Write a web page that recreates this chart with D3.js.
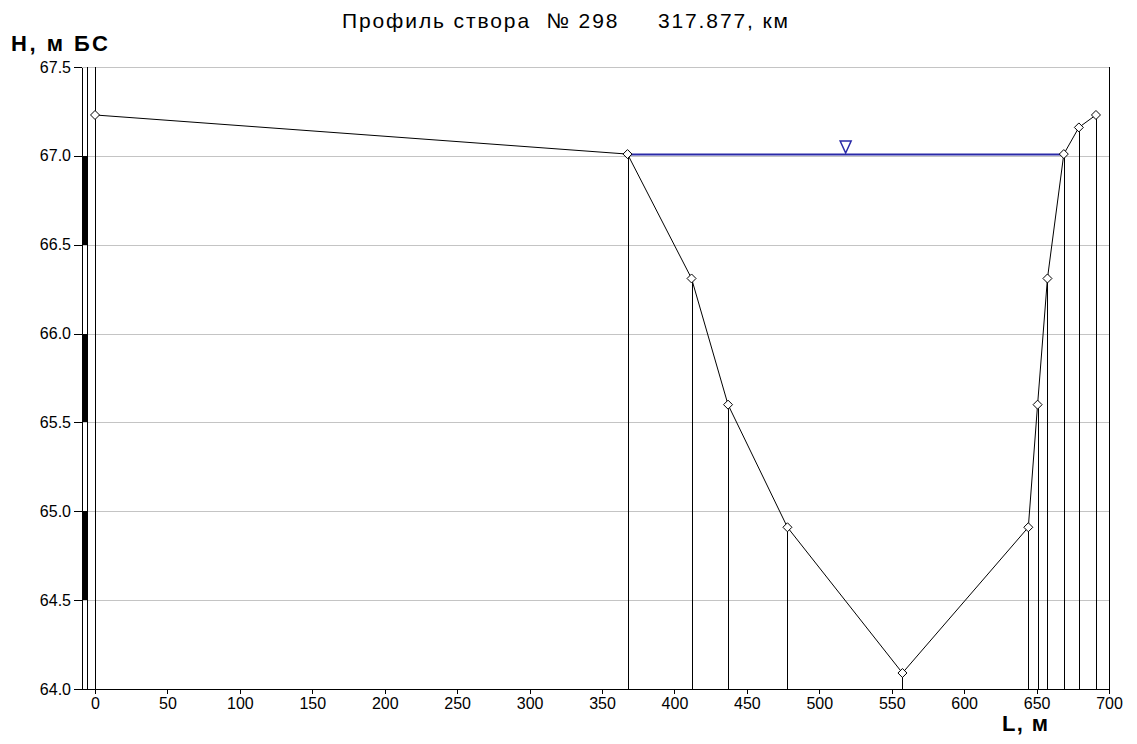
<!DOCTYPE html>
<html>
<head>
<meta charset="utf-8">
<script src="https://cdn.jsdelivr.net/npm/d3@7"></script>
<style>
  body { margin: 0; background: #fff; }
  svg text { font-family: "Liberation Sans", Arial, sans-serif; fill: #000; white-space: pre; }
</style>
</head>
<body>
<svg id="chart"></svg>
<script>
// Profile data: distance along section (m) and bed elevation (m BS)
const stations = [0, 367.6, 411.8, 437, 478, 557.4, 644.3, 650.7, 657.5, 668.8, 679.2, 691];
const heights = [67.23, 67.01, 66.31, 65.60, 64.91, 64.09, 64.91, 65.60, 66.31, 67.01, 67.16, 67.23];

// Water level and its extent
const waterLevel = 67.01;
const waterFrom = 367.6;
const waterTo = 668.8;

// Alternating gauge bands on the left
const gaugeBands = [[66.5, 67.0], [65.5, 66.0], [64.5, 65.0]];

const xTicks = [0, 50, 100, 150, 200, 250, 300, 350, 400, 450, 500, 550, 600, 650, 700];
const yTicks = [64.0, 64.5, 65.0, 65.5, 66.0, 66.5, 67.0, 67.5];

const titleText = "Профиль створа  № 298     317.877, км";
const yLabel = "Н, м БС";
const xLabel = "L, м";

const width = 1137;
const height = 744;

const x = d3.scaleLinear().domain([-9, 700]).range([82, 1109]);
const y = d3.scaleLinear().domain([64, 67.5]).range([689, 67]);

const svg = d3.select("#chart")
    .attr("width", width)
    .attr("height", height);

// grid lines
svg.append("g")
    .selectAll("line")
    .data(yTicks)
    .join("line")
    .attr("x1", x(-9))
    .attr("x2", x(700))
    .attr("y1", d => Math.round(y(d)) + 0.5)
    .attr("y2", d => Math.round(y(d)) + 0.5)
    .attr("stroke", "#c4c4c4")
    .attr("shape-rendering", "crispEdges");

// gauge column
const gx0 = Math.round(x(-9)) + 0.5;
const gx1 = Math.round(x(-5.8)) + 0.5;
svg.append("g")
    .selectAll("rect")
    .data(gaugeBands)
    .join("rect")
    .attr("x", gx0)
    .attr("width", gx1 - gx0)
    .attr("y", d => y(d[1]))
    .attr("height", d => y(d[0]) - y(d[1]))
    .attr("fill", "#000")
    .attr("shape-rendering", "crispEdges");

const frame = svg.append("g")
    .attr("stroke", "#000")
    .attr("shape-rendering", "crispEdges");

// full-height verticals: gauge edge, zero station, right border
[gx1, Math.round(x(0)) + 0.5, Math.round(x(700)) + 0.5].forEach(px => {
  frame.append("line")
    .attr("x1", px).attr("x2", px)
    .attr("y1", y(67.5)).attr("y2", y(64));
});

// verticals from each profile point down to the axis
svg.append("g")
    .selectAll("line")
    .data(stations.slice(1))
    .join("line")
    .attr("x1", d => Math.round(x(d)) + 0.5)
    .attr("x2", d => Math.round(x(d)) + 0.5)
    .attr("y1", (d, i) => y(heights[i + 1]))
    .attr("y2", y(64))
    .attr("stroke", "#000")
    .attr("shape-rendering", "crispEdges");

// axes
const yAxis = svg.append("g")
    .attr("transform", `translate(${gx0 - 0.5},0)`)
    .call(d3.axisLeft(y).tickValues(yTicks).tickFormat(d3.format(".1f")).tickSize(8).tickSizeOuter(0).tickPadding(3));

const xAxis = svg.append("g")
    .attr("transform", `translate(0,${Math.round(y(64))})`)
    .call(d3.axisBottom(x).tickValues(xTicks).tickSize(5).tickSizeOuter(0).tickPadding(4));

[yAxis, xAxis].forEach(g => {
  g.attr("shape-rendering", "crispEdges");
  g.selectAll("path, line").attr("stroke", "#000");
  g.selectAll("text")
    .attr("font-size", 16)
    .attr("font-family", "\"Liberation Sans\", Arial, sans-serif");
});

// water surface
svg.append("line")
    .attr("x1", x(waterFrom))
    .attr("x2", x(waterTo))
    .attr("y1", Math.round(y(waterLevel)) + 0.5)
    .attr("y2", Math.round(y(waterLevel)) + 0.5)
    .attr("stroke", "#2a2aa8")
    .attr("stroke-width", 2);

const tx = x((waterFrom + waterTo) / 2);
const ty = Math.round(y(waterLevel)) - 1;
svg.append("path")
    .attr("d", `M${tx - 5.5},${ty - 12}L${tx + 5.5},${ty - 12}L${tx},${ty}Z`)
    .attr("fill", "#fff")
    .attr("stroke", "#2a2aa8")
    .attr("stroke-width", 1.5);

// profile line
const points = stations.map((s, i) => [s, heights[i]]);
const line = d3.line()
    .x(d => x(d[0]))
    .y(d => y(d[1]));

svg.append("path")
    .datum(points)
    .attr("d", line)
    .attr("fill", "none")
    .attr("stroke", "#000")
    .attr("stroke-width", 1);

// point markers
svg.append("g")
    .selectAll("path")
    .data(points)
    .join("path")
    .attr("transform", d => `translate(${x(d[0])},${y(d[1])})`)
    .attr("d", "M0,-4.5L4.5,0L0,4.5L-4.5,0Z")
    .attr("fill", "#fff")
    .attr("stroke", "#000")
    .attr("stroke-width", 1);

// titles
svg.append("text")
    .attr("x", 342)
    .attr("y", 28)
    .attr("font-size", 21)
    .attr("textLength", 446)
    .attr("lengthAdjust", "spacing")
    .text(titleText);

svg.append("text")
    .attr("x", 11)
    .attr("y", 51)
    .attr("font-size", 22)
    .attr("font-weight", "bold")
    .attr("textLength", 97)
    .attr("lengthAdjust", "spacing")
    .text(yLabel);

svg.append("text")
    .attr("x", 1002)
    .attr("y", 731)
    .attr("font-size", 22)
    .attr("font-weight", "bold")
    .attr("textLength", 46)
    .attr("lengthAdjust", "spacing")
    .text(xLabel);
</script>
</body>
</html>
